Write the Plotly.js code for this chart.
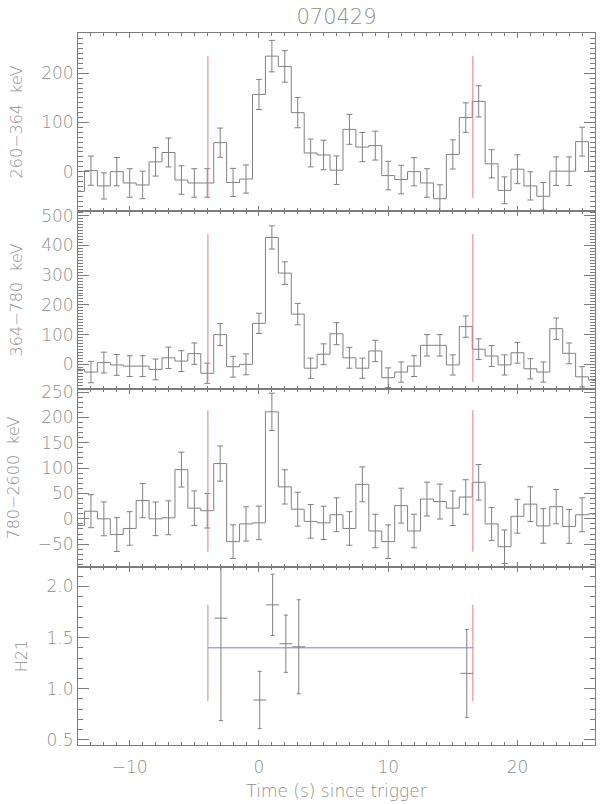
<!DOCTYPE html>
<html>
<head>
<meta charset="utf-8">
<script src="https://cdn.plot.ly/plotly-3.0.1.min.js"></script>
<style>
  body { margin: 0; background: #fff; }
  #grb { width: 600px; height: 804px; }
</style>
</head>
<body>
<div id="grb"></div>
<script>
// bin centres (s since trigger), 1 s bins
var time = [-14,-13,-12,-11,-10,-9,-8,-7,-6,-5,-4,-3,-2,-1,0,1,2,3,4,5,6,7,8,9,10,11,12,13,14,15,16,17,18,19,20,21,22,23,24,25,26];

// 260-364 keV
var band1 = [-40,2,-29,0,-23,-27,20,39,-17,-23,-23,59,-22,-15,157,235,214,120,38,34,3,86,50,53,-8,-16,0,-23,-55,35,110,143,16,-38,5,-29,-50,1,1,61,1];
var band1Err = [null,29.7,26.6,28.7,29,28,29,29.4,29,29,29,29.7,28.7,28.7,30.7,32,32,30.7,28.3,30,29,30.4,29.7,29.4,29,29,28.7,29,28.3,29.7,30,31.7,28.7,27.3,29.4,28.7,28,29,29,29.4,null];

// 364-780 keV
var band2 = [-17,-26,6,-2,-6,-6,-17,22,11,36,-30,100,-8,0,138,427,307,169,-13,34,103,22,-13,45,-45,-26,-6,64,64,-2,127,51,28,-2,39,-15,-26,120,37,-42,-53];
var band2Err = [null,36,35,35,35,35,35,36,35,36,34,37,35,35,34,39,38,36,34,35,37,35,34,36,33,34,35,36,36,34,36,35,35,34,35,34,34,36,35,34,null];

// 780-2600 keV
var band3 = [-13,15,0,-31,-19,36,0,2,97,21,16,109,-45,-10,-8,211,63,19,-5,-8,8,-19,68,-24,-45,26,-24,39,34,21,43,72,-10,-55,5,29,-14,24,-15,8,10];
var band3Err = [null,32.5,33.4,33.4,33.1,33.8,33.1,33.4,34.4,34.1,34.1,34.7,33.1,33.8,33.1,36.7,33.8,33.4,33.1,32.8,33.4,33.1,34.4,33.1,33.1,34.4,33.1,33.4,34.4,34.1,34.1,35.1,32.5,33.1,33.4,34.1,34.1,33.8,33.4,33.4,null];

// hardness ratio H21
var h21Time = [-2.94, 0.06, 1.06, 2.08, 3.08, 16.08];
var h21 = [1.69, 0.89, 1.82, 1.44, 1.41, 1.15];
var h21Err = [1.0, 0.28, 0.30, 0.28, 0.46, 0.43];
var h21TimeErr = [0.5, 0.5, 0.5, 0.5, 0.5, 0.5];
var h21Mean = 1.40;

// interval boundaries (red marks) and their vertical extent per panel
var markTimes = [-3.95, 16.55];
var markLow = [-53, -59, -65, 0.88];
var markHigh = [235, 438, 214, 1.82];

var bandNames = ['260\u2212364  keV', '364\u2212780  keV', '780\u22122600  keV'];
var bandRanges = [[-80, 282], [-83, 516], [-95, 256]];
var bandDtick = [100, 100, 50];

var grey = '#7c7c7c';
var textGrey = '#8e8e8e';

function stepTrace(y, err, k) {
  return {
    x: time, y: y,
    xaxis: 'x' + (k === 1 ? '' : k), yaxis: 'y' + (k === 1 ? '' : k),
    type: 'scatter', mode: 'lines',
    line: {color: '#808080', width: 1, shape: 'hvh'},
    error_y: {type: 'data', array: err, visible: true, color: '#808080', thickness: 1, width: 3},
    hoverinfo: 'x+y'
  };
}

function markTrace(k) {
  return {
    x: [markTimes[0], markTimes[0], null, markTimes[1], markTimes[1]],
    y: [markLow[k-1], markHigh[k-1], null, markLow[k-1], markHigh[k-1]],
    xaxis: 'x' + (k === 1 ? '' : k), yaxis: 'y' + (k === 1 ? '' : k),
    type: 'scatter', mode: 'lines',
    line: {color: '#e87a7a', width: 1}
  };
}

var data = [
  stepTrace(band1, band1Err, 1),
  stepTrace(band2, band2Err, 2),
  stepTrace(band3, band3Err, 3),
  markTrace(1), markTrace(2), markTrace(3), markTrace(4),
  {
    x: markTimes, y: [h21Mean, h21Mean],
    xaxis: 'x4', yaxis: 'y4',
    type: 'scatter', mode: 'lines',
    line: {color: '#7b7be8', width: 1}
  },
  {
    x: h21Time, y: h21,
    xaxis: 'x4', yaxis: 'y4',
    type: 'scatter', mode: 'markers',
    marker: {size: 1, color: 'rgba(0,0,0,0)'},
    error_y: {type: 'data', array: h21Err, color: '#808080', thickness: 1, width: 2},
    error_x: {type: 'data', array: h21TimeErr, color: '#808080', thickness: 1, width: 0}
  }
];

function xFrame(k, labels) {
  return {
    range: [-14, 26], anchor: 'y' + (k === 1 ? '' : k),
    showline: true, linecolor: grey, linewidth: 1, mirror: 'allticks',
    ticks: 'inside', ticklen: 5, tickcolor: grey, dtick: 10, tick0: 0,
    minor: {ticks: 'inside', dtick: 1, ticklen: 3, tickcolor: grey, showgrid: false},
    showgrid: false, zeroline: false,
    showticklabels: labels, ticklabelstandoff: 7,
    tickfont: {size: 17, color: textGrey}
  };
}

function yFrame(dom, rng, dt, minorDt, title) {
  return {
    domain: dom, range: rng,
    showline: true, linecolor: grey, linewidth: 1, mirror: 'allticks',
    ticks: 'inside', ticklen: 11, tickcolor: grey, dtick: dt, tick0: 0,
    minor: {ticks: 'inside', dtick: minorDt, ticklen: 5, tickcolor: grey, showgrid: false},
    showgrid: false, zeroline: false,
    tickfont: {size: 17, color: textGrey},
    title: {text: title, font: {size: 16, color: textGrey}, standoff: 14}
  };
}

var layout = {
  width: 600, height: 804,
  margin: {l: 78, r: 5, t: 33, b: 59},
  paper_bgcolor: '#ffffff', plot_bgcolor: '#ffffff',
  font: {family: 'DejaVu Sans', color: textGrey, weight: 200},
  showlegend: false,
  title: {text: '070429', x: 0.5, xref: 'paper', y: 0.979, yref: 'container', yanchor: 'middle',
          font: {size: 21, color: textGrey}},
  xaxis: xFrame(1, false),
  xaxis2: xFrame(2, false),
  xaxis3: xFrame(3, false),
  xaxis4: Object.assign(xFrame(4, true), {
    title: {text: 'Time (s) since trigger', font: {size: 17, color: textGrey}, standoff: 8}
  }),
  yaxis: yFrame([0.75, 1], bandRanges[0], bandDtick[0], 10, bandNames[0]),
  yaxis2: yFrame([0.5, 0.75], bandRanges[1], bandDtick[1], 10, bandNames[1]),
  yaxis3: yFrame([0.25, 0.5], bandRanges[2], bandDtick[2], 10, bandNames[2]),
  yaxis4: Object.assign(yFrame([0, 0.25], [0.45, 2.19], 0.5, 0.1, 'H21'), {tickformat: '.1f'})
};

Plotly.newPlot('grb', data, layout, {displayModeBar: false, staticPlot: true});
</script>
</body>
</html>
